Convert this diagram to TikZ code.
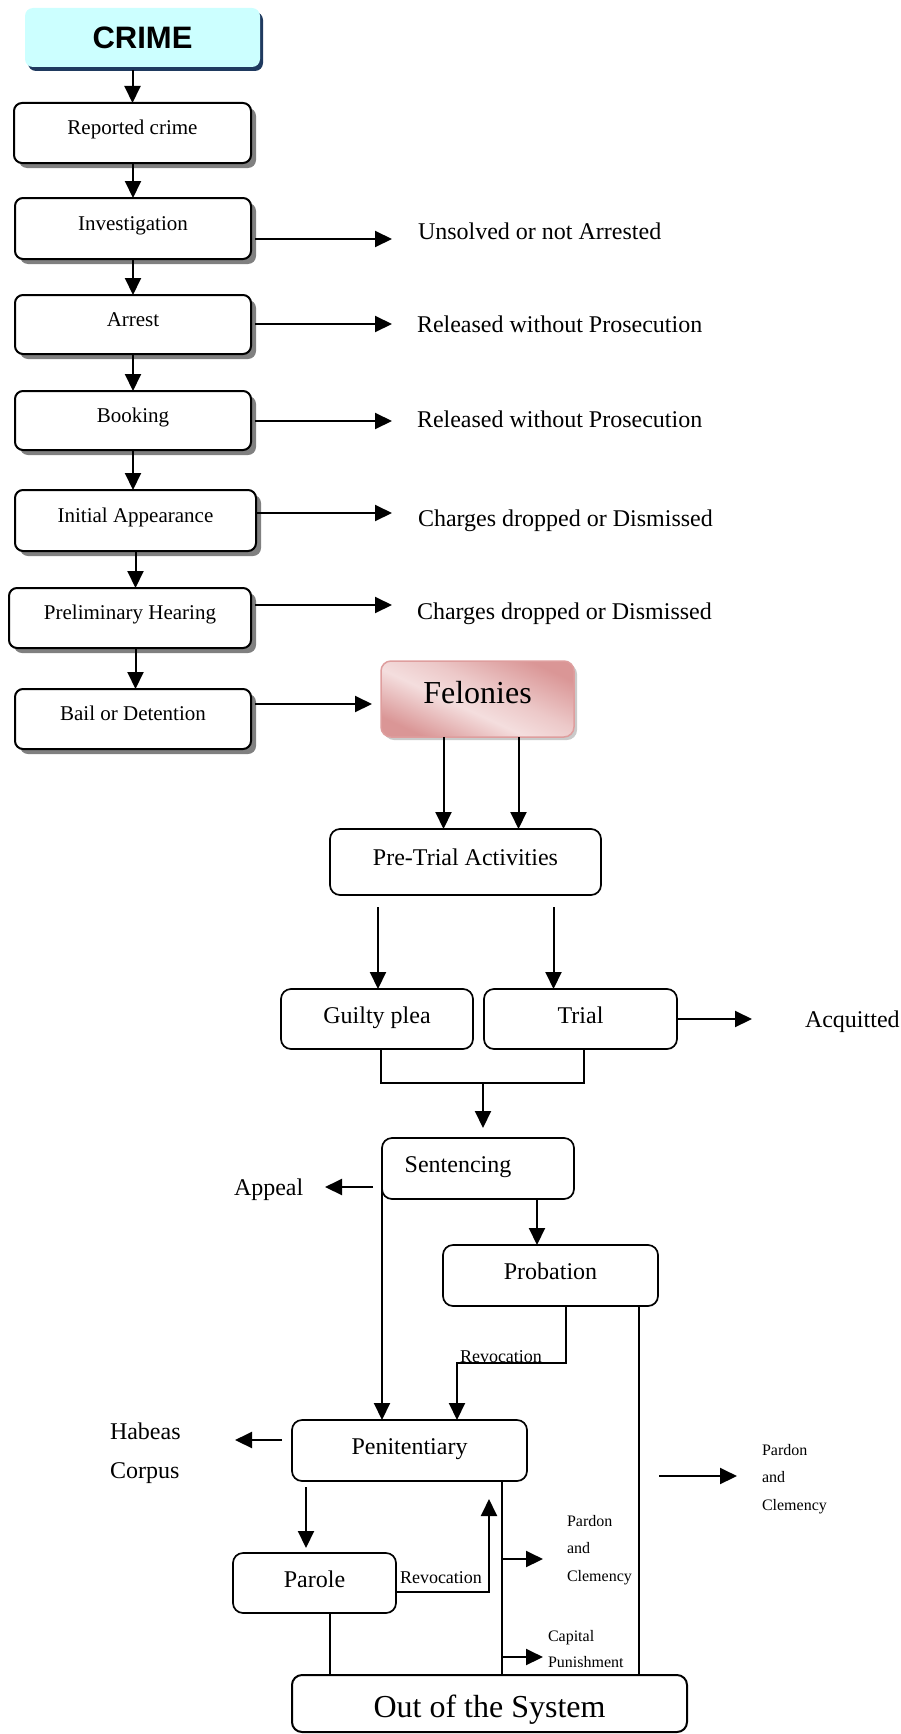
\documentclass[tikz,border=0pt]{standalone}
\usepackage{fontspec}
\setmainfont{Liberation Serif}
\newfontfamily\headfont{Liberation Sans}
\usetikzlibrary{arrows.meta,shadows,calc}

\definecolor{crimefill}{HTML}{CCFFFF}
\definecolor{crimeshadow}{HTML}{1F3A5F}
\definecolor{feldark}{RGB}{218,150,150}
\definecolor{fellight}{RGB}{244,222,222}
\definecolor{felborder}{RGB}{222,158,158}
\definecolor{stepshadow}{RGB}{128,128,128}

% diagonal pink sheen of the felony box
\pgfdeclarehorizontalshading{felshade}{100bp}{color(0bp)=(feldark); color(25bp)=(feldark); color(44bp)=(fellight); color(56bp)=(feldark!30!fellight); color(75bp)=(feldark); color(100bp)=(feldark)}

\begin{document}
\begin{tikzpicture}[x=1pt,y=-1pt,
  every node/.style={inner sep=0pt, outer sep=0pt},
  upbox/.style={draw, line width=2pt, rounded corners=8pt, fill=white,
    drop shadow={shadow xshift=5pt, shadow yshift=-5pt, fill=stepshadow, opacity=1},
    font=\fontsize{21}{25}\selectfont, text height=14pt, text depth=11pt},
  lowbox/.style={draw, line width=1.7pt, rounded corners=10pt, fill=white,
    font=\fontsize{24}{28}\selectfont, text height=16pt, text depth=8pt},
  ln/.style={line width=2pt},
  arr/.style={line width=2pt, -{Triangle[length=17pt,width=16pt]}},
  lab24/.style={font=\fontsize{24}{28}\selectfont, anchor=base west},
  lab18/.style={font=\fontsize{18}{22}\selectfont, anchor=base west},
  lab16/.style={font=\fontsize{16}{27.5}\selectfont, anchor=base west, align=left},
]
\useasboundingbox (0,0) rectangle (900,1734);

% ---- arrest and charging stages
\node[fill=crimefill, rounded corners=8pt, minimum width=235pt, minimum height=59pt,
  drop shadow={shadow xshift=3pt, shadow yshift=-4pt, fill=crimeshadow, opacity=1},
  font=\headfont\bfseries\fontsize{31}{35}\selectfont, text height=24pt, text depth=2pt]
  (crime) at (142.5,37.5) {CRIME};
\node[upbox, minimum width=237pt, minimum height=60pt] (reported) at (132.5,133) {Reported crime};
\node[upbox, minimum width=236pt, minimum height=61pt] (invest) at (133,228.5) {Investigation};
\node[upbox, minimum width=236pt, minimum height=59pt] (arrest) at (133,324.5) {Arrest};
\node[upbox, minimum width=236pt, minimum height=59pt] (booking) at (133,420.5) {Booking};
\node[upbox, minimum width=241pt, minimum height=61pt] (initial) at (135.5,520.5) {Initial Appearance};
\node[upbox, minimum width=242pt, minimum height=60pt] (prelim) at (130,618) {Preliminary Hearing};
\node[upbox, minimum width=236pt, minimum height=60pt] (bail) at (133,719) {Bail or Detention};

\draw[arr, shorten <=3pt] (reported.north |- crime.south) -- (reported.north);
\draw[arr] (invest.north |- reported.south) -- (invest.north);
\draw[arr] (invest.south) -- (invest.south |- arrest.north);
\draw[arr] (arrest.south) -- (arrest.south |- booking.north);
\draw[arr] (booking.south) -- (booking.south |- initial.north);
\draw[arr] (initial.south) -- (initial.south |- prelim.north);
\draw[arr] (initial.south |- prelim.south) -- (initial.south |- bail.north);

% ---- exits from the early stages
\node[lab24] (out1) at (418,239) {Unsolved or not Arrested};
\node[lab24] (out2) at (417,332.5) {Released without Prosecution};
\node[lab24] (out3) at (417,427.5) {Released without Prosecution};
\node[lab24] (out4) at (418,526) {Charges dropped or Dismissed};
\node[lab24] (out5) at (417,619) {Charges dropped or Dismissed};
\coordinate (e1) at (392,239);
\coordinate (e2) at (392,324);
\coordinate (e3) at (392,421);
\coordinate (e4) at (392,513);
\coordinate (e5) at (392,605);
\draw[arr, shorten <=4pt] (invest.east |- e1) -- (e1);
\draw[arr, shorten <=4pt] (arrest.east |- e2) -- (e2);
\draw[arr, shorten <=4pt] (booking.east |- e3) -- (e3);
\draw[arr] (initial.east |- e4) -- (e4);
\draw[arr, shorten <=4pt] (prelim.east |- e5) -- (e5);

% ---- felony track
\node[shade, shading=felshade, shading angle=65, draw=felborder, line width=1.5pt,
  rounded corners=10pt, minimum width=193pt, minimum height=76pt,
  drop shadow={shadow xshift=3pt, shadow yshift=-3pt, fill=black!35, opacity=.6},
  font=\fontsize{32}{36}\selectfont, text height=20pt, text depth=12pt]
  (felonies) at (477.5,699) {Felonies};
\coordinate (b1) at (372,704);
\draw[arr, shorten <=4pt] (bail.east |- b1) -- (b1);

\node[lowbox, minimum width=271pt, minimum height=66pt, text depth=10pt] (pretrial) at (465.5,862) {Pre-Trial Activities};
\coordinate (f1) at ($(felonies.south)+(-34,0)$);
\coordinate (f2) at ($(felonies.south)+(41,0)$);
\draw[arr] (f1) -- (f1 |- pretrial.north);
\draw[arr] (f2) -- (f2 |- pretrial.north);

\node[lowbox, minimum width=192pt, minimum height=60pt] (guilty) at (377,1019) {Guilty plea};
\node[lowbox, minimum width=193pt, minimum height=60pt] (trial) at (580.5,1019) {Trial};
\coordinate (p1) at ($(pretrial.south -| guilty.north)+(1,12)$);
\coordinate (p2) at ($(pretrial.south -| trial.north)+(-27,12)$);
\draw[arr] (p1) -- (p1 |- guilty.north);
\draw[arr] (p2) -- (p2 |- trial.north);

\coordinate (aq) at (752,1019);
\draw[arr] (trial.east) -- (aq);
\node[lab24] (acquitted) at (805,1027) {Acquitted};

\node[lowbox, minimum width=192pt, minimum height=61pt] (sentencing) at (478,1168.5) {Sentencing\hspace*{40pt}};
\coordinate (g1) at ($(guilty.south)+(4,0)$);
\coordinate (t1) at ($(trial.south)+(3.5,0)$);
\coordinate (jn) at (483,1083);
\draw[ln] (g1) -- (g1 |- jn) -- (t1 |- jn) -- (t1);
\draw[arr] (jn) -- ($(jn |- sentencing.north)+(0,-10)$);

\coordinate (ap) at (325,1187);
\node[lab24] (appeal) at (234,1195) {Appeal};
\draw[arr] ($(sentencing.west |- ap)+(-9,0)$) -- (ap);

\node[lowbox, minimum width=215pt, minimum height=61pt] (probation) at (550.5,1275.5) {Probation};
\coordinate (s1) at ($(sentencing.south)+(59,0)$);
\draw[arr] (s1) -- (s1 |- probation.north);

\node[lowbox, minimum width=235pt, minimum height=61pt] (penitentiary) at (409.5,1450.5) {Penitentiary};
\draw[arr] ($(sentencing.west |- ap)+(0,-2)$) -- (sentencing.west |- penitentiary.north);

% revocation of probation
\coordinate (r1) at ($(probation.south)+(15.5,0)$);
\coordinate (r2) at ($(penitentiary.north)+(47.5,0)$);
\coordinate (rv) at (460,1363);
\draw[arr] (r1) |- (r2 |- rv) -- (r2);
\node[lab18] (rev1) at (460,1362) {Revocation};

% habeas corpus (base anchor sits on the last line)
\coordinate (hb) at (235,1440);
\draw[arr] ($(penitentiary.west |- hb)+(-10,0)$) -- (hb);
\node[lab24, align=left, font=\fontsize{24}{39}\selectfont] (habeas) at (110,1478) {Habeas\\Corpus};

% parole
\node[lowbox, minimum width=163pt, minimum height=60pt] (parole) at (314.5,1583) {Parole};
\coordinate (pp) at ($(penitentiary.south)+(-103.5,6)$);
\draw[arr] (pp) -- ($(pp |- parole.north)+(0,-5)$);
\coordinate (pr1) at ($(parole.east)+(0,9)$);
\coordinate (pr2) at (489,1499);
\draw[arr] (pr1) -| (pr2);
\node[lab18] (rev2) at (400,1583) {Revocation};

% ---- leaving the system
\node[lowbox, line width=2pt, minimum width=395pt, minimum height=57pt,
  font=\fontsize{32}{36}\selectfont, text height=28pt, text depth=1pt]
  (out) at (489.5,1703.5) {Out of the System};

\coordinate (po) at ($(parole.south)+(15.5,0)$);
\draw[ln] (po) -- (po |- out.north);
\coordinate (pn) at ($(penitentiary.south)+(92.5,0)$);
\draw[ln] (pn) -- (pn |- out.north);
\coordinate (q1) at ($(probation.south)+(88.5,0)$);
\draw[ln] (q1) -- (q1 |- out.north);

\coordinate (pa) at (543,1559);
\draw[arr] (pn |- pa) -- (pa);
\node[lab16] (pardon1) at (567,1581) {Pardon\\and\\Clemency};
\coordinate (ca) at (543,1657);
\draw[arr] (pn |- ca) -- (ca);
\node[lab16, font=\fontsize{16}{26}\selectfont] (capital) at (548,1667) {Capital\\Punishment};

\coordinate (pc1) at (659,1476);
\coordinate (pc2) at (737,1476);
\draw[arr] (pc1) -- (pc2);
\node[lab16] (pardon2) at (762,1510) {Pardon\\and\\Clemency};

\end{tikzpicture}
\end{document}
